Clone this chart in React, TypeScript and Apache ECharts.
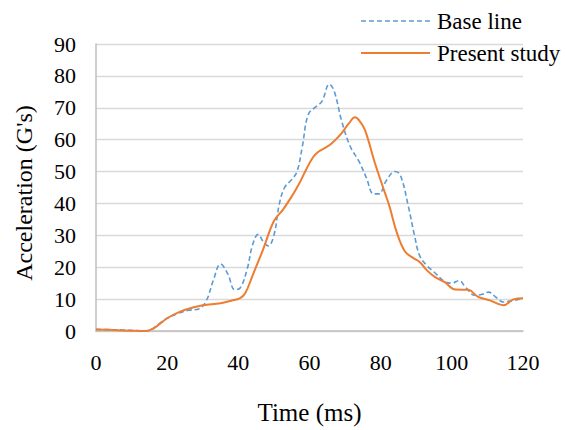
import React, { useEffect, useRef } from "react";
import * as echarts from "echarts";

const xTicks = [0, 20, 40, 60, 80, 100, 120];
const yTicks = [0, 10, 20, 30, 40, 50, 60, 70, 80, 90];
const seriesNames = ["Base line", "Present study"];

const baseLineTime = [0, 5, 10, 14, 16, 18, 20, 23, 26, 29, 31, 33, 35, 37, 39, 40.5, 42.5, 44, 45.6, 47, 48.4, 50, 51.5, 53, 55, 56.5, 58, 59.7, 62, 63.5, 65.6, 67, 69, 71.4, 74, 76, 78, 79.5, 81.5, 84, 85.5, 87.8, 89.5, 91, 93, 95, 98, 100, 102, 104, 106.5, 108.5, 110.3, 112.5, 114.5, 117, 120];
const baseLineAcc = [0.5, 0.4, 0.2, 0.0, 0.8, 2.5, 4.0, 5.5, 6.5, 7.0, 9.5, 16, 21, 18, 13, 13.5, 19.5, 27, 30.3, 28, 26.7, 30, 39.7, 45, 47.5, 50, 58, 68, 70.5, 72, 77.4, 75, 66, 58, 53, 48, 43, 43, 47, 50, 49, 39, 30, 23.5, 20.5, 18.5, 15.5, 15, 15.8, 13.5, 11.2, 11.5, 12.2, 10.5, 9.1, 9.5, 10.3];

const presentTime = [0, 5, 10, 14, 16, 18, 20, 23.5, 27, 30, 35, 38, 40.5, 42, 44, 47, 50, 52.5, 55, 57, 59, 61, 62.5, 64.5, 66.2, 69, 71, 72.8, 74, 75.6, 78.4, 81.2, 82.5, 84.5, 86.8, 89, 91.1, 93, 95.3, 98, 101, 104.6, 107.4, 110.7, 113, 114.5, 117.3, 120];
const presentAcc = [0.5, 0.3, 0.1, 0, 0.7, 2.3, 4.0, 6.0, 7.3, 8.1, 8.7, 9.5, 10.3, 12, 17.4, 25.7, 34.5, 38, 42.2, 46, 50.5, 54.5, 56.2, 57.5, 58.8, 62, 65, 67, 66, 63, 52.6, 43.3, 39, 31, 25, 23, 21.5, 19, 16.9, 15.3, 13, 12.9, 10.7, 9.6, 8.5, 8.1, 9.9, 10.3];

const FONT = "'Liberation Serif', 'Times New Roman', serif";
const BLUE = "#5B9BD5";
const ORANGE = "#ED7D31";

export default function App() {
  const ref = useRef<HTMLDivElement>(null);
  useEffect(() => {
    if (!ref.current) return;
    const chart = echarts.init(ref.current, undefined, { renderer: "svg" });
    chart.setOption({
      animation: false,
      backgroundColor: "#ffffff",
      textStyle: { fontFamily: FONT, color: "#000" },
      grid: { left: 96, right: 43, top: 44, bottom: 94 },
      graphic: [
        {
          type: "line",
          shape: { x1: 361, y1: 21, x2: 430, y2: 21 },
          style: { stroke: BLUE, lineWidth: 1.6, lineDash: [5, 3] },
        },
        {
          type: "text",
          x: 437,
          y: 21,
          style: { text: seriesNames[0], font: `23px ${FONT}`, fill: "#000", verticalAlign: "middle" },
        },
        {
          type: "line",
          shape: { x1: 361, y1: 53, x2: 430, y2: 53 },
          style: { stroke: ORANGE, lineWidth: 2 },
        },
        {
          type: "text",
          x: 437,
          y: 53,
          style: { text: seriesNames[1], font: `23px ${FONT}`, fill: "#000", verticalAlign: "middle" },
        },
        {
          type: "text",
          x: 24,
          y: 193,
          rotation: Math.PI / 2,
          style: {
            text: "Acceleration (G's)",
            font: `24px ${FONT}`,
            fill: "#000",
            align: "center",
            verticalAlign: "middle",
          },
        },
      ],
      xAxis: {
        type: "value",
        min: xTicks[0],
        max: xTicks[xTicks.length - 1],
        interval: 20,
        name: "Time (ms)",
        nameLocation: "middle",
        nameGap: 69,
        nameTextStyle: { fontFamily: FONT, fontSize: 25, color: "#000" },
        axisLine: { lineStyle: { color: "#bfbfbf", width: 1.5 } },
        axisTick: { show: false },
        axisLabel: { fontFamily: FONT, fontSize: 22, color: "#000", margin: 20 },
        splitLine: { show: false },
      },
      yAxis: {
        type: "value",
        min: yTicks[0],
        max: yTicks[yTicks.length - 1],
        interval: 10,
        axisLine: { show: true, lineStyle: { color: "#bfbfbf", width: 1.5 } },
        axisTick: { show: false },
        axisLabel: { fontFamily: FONT, fontSize: 22, color: "#000", margin: 20 },
        splitLine: { lineStyle: { color: "#d9d9d9", width: 1.3 } },
      },
      series: [
        {
          name: seriesNames[0],
          type: "line",
          smooth: 0.4,
          symbol: "none",
          data: baseLineTime.map((t, i) => [t, baseLineAcc[i]]),
          lineStyle: { color: BLUE, width: 1.6, type: [5, 3] },
          itemStyle: { color: BLUE },
          z: 2,
        },
        {
          name: seriesNames[1],
          type: "line",
          smooth: 0.4,
          symbol: "none",
          data: presentTime.map((t, i) => [t, presentAcc[i]]),
          lineStyle: { color: ORANGE, width: 2 },
          itemStyle: { color: ORANGE },
          z: 3,
        },
      ],
    });
    return () => chart.dispose();
  }, []);
  return (
    <div
      ref={ref}
      style={{ position: "absolute", left: 0, top: 0, width: 566, height: 430 }}
    />
  );
}
